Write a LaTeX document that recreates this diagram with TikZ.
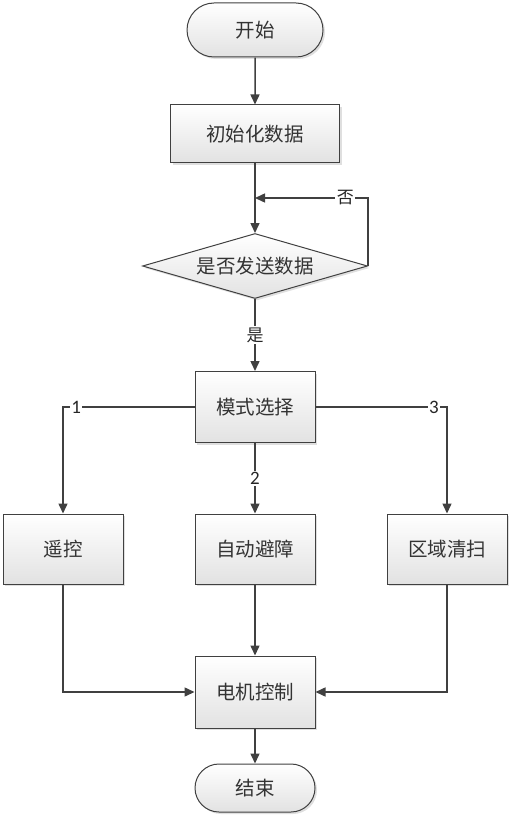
\documentclass[tikz,border=0pt]{standalone}
\usepackage{fontspec}
\setmainfont{Noto Sans CJK SC}
\setsansfont{Carlito}
\usetikzlibrary{shapes.geometric,shapes.misc,arrows.meta,shadows}

\definecolor{linegray}{HTML}{404040}
\definecolor{fillgray}{HTML}{E2E2E2}

\tikzset{
  base/.style={draw=linegray,line width=1pt,top color=white,bottom color=fillgray,
    drop shadow={opacity=0.25,shadow xshift=2pt,shadow yshift=-2pt},
    text=black!80,font=\fontsize{19.5}{22}\selectfont,inner sep=0pt},
  term/.style={base,rounded rectangle},
  proc/.style={base,rectangle},
  dec/.style={base,diamond,aspect=3.46},
  arr/.style={draw=linegray,line width=1.5pt,-{Triangle[length=10pt,width=9pt]}},
  lbl/.style={fill=white,inner sep=1.5pt,text=black!85}
}

\begin{document}
\begin{tikzpicture}[x=1pt,y=-1pt]
  \useasboundingbox (0,0) rectangle (513,818);

  \node[term,minimum width=136pt,minimum height=54pt] (start) at (255,30) {开始};
  \node[proc,minimum width=169pt,minimum height=58pt] (init) at (255,134) {初始化数据};
  \node[dec,minimum width=225pt,minimum height=65pt] (send) at (255,266) {是否发送数据};
  \node[proc,minimum width=120pt,minimum height=71pt] (mode) at (255,407) {模式选择};
  \node[proc,minimum width=120pt,minimum height=70pt] (remote) at (63,549) {遥控};
  \node[proc,minimum width=120pt,minimum height=70pt] (avoid) at (255,549) {自动避障};
  \node[proc,minimum width=120pt,minimum height=70pt] (sweep) at (447,549) {区域清扫};
  \node[proc,minimum width=120pt,minimum height=72pt] (motor) at (255,692) {电机控制};
  \node[term,minimum width=120pt,minimum height=48pt] (stop) at (255,788) {结束};

  \coordinate (back) at (255,198);

  \draw[arr] (start) -- (init);
  \draw[arr] (init) -- (send);
  \draw[arr] (send.east) |- node[lbl,pos=0.6,font=\fontsize{17}{20}\selectfont] {否} (back);
  \draw[arr] (send) -- node[lbl,font=\fontsize{17}{20}\selectfont] {是} (mode);

  \draw[arr] (mode.west) -| node[lbl,pos=0.45,font=\sffamily\fontsize{19}{22}\selectfont] {1} (remote);
  \draw[arr] (mode) -- node[lbl,font=\sffamily\fontsize{19}{22}\selectfont] {2} (avoid);
  \draw[arr] (mode.east) -| node[lbl,pos=0.45,font=\sffamily\fontsize{19}{22}\selectfont] {3} (sweep);

  \draw[arr] (remote) |- (motor);
  \draw[arr] (avoid) -- (motor);
  \draw[arr] (sweep) |- (motor);
  \draw[arr] (motor) -- (stop);
\end{tikzpicture}
\end{document}
